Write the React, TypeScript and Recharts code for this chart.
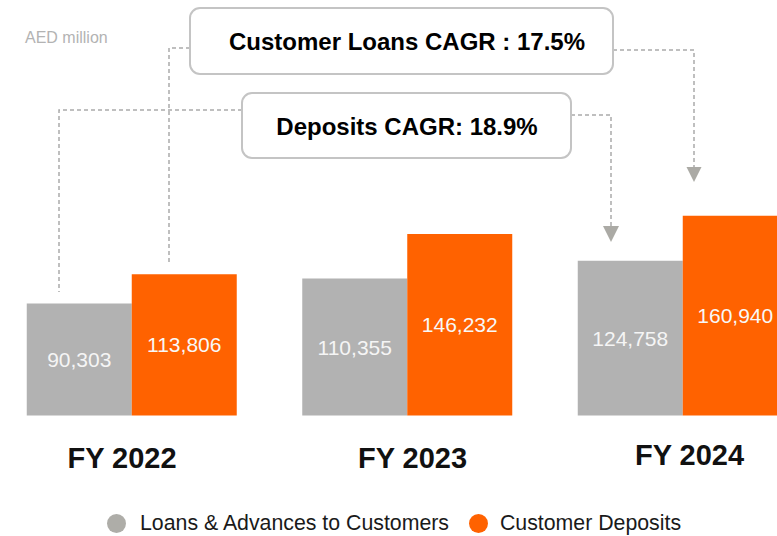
import { Bar, BarChart, LabelList, Legend, XAxis, YAxis } from 'recharts';

const years = ['FY 2022', 'FY 2023', 'FY 2024'];
const loans = [90303, 110355, 124758];
const deposits = [113806, 146232, 160940];
const unitLabel = 'AED million';
const loansCagr = 'Customer Loans CAGR : 17.5%';
const depositsCagr = 'Deposits CAGR: 18.9%';

const GREY = '#b2b2b2';
const ORANGE = '#ff6200';
const LINE = '#ababab';
const FONT = '"Liberation Sans", Arial, Helvetica, sans-serif';

// hand nudges so the year labels sit where the slide had them
const tickNudge = [
  { dx: -9.5, dy: 0 },
  { dx: 5.5, dy: 0.5 },
  { dx: 7, dy: -2.5 },
];

const legendOrder = ['loans', 'deposits'];
const legendDot: Record<string, string> = { loans: '#aeada8', deposits: ORANGE };

const data = years.map((year, i) => ({ year, loans: loans[i], deposits: deposits[i] }));

const fmt = (v: unknown) => Number(v).toLocaleString('en-US');

function YearTick(props: any) {
  const { x, y, payload, index } = props;
  const n = tickNudge[index] ?? { dx: 0, dy: 0 };
  return (
    <text
      x={x + n.dx}
      y={y + 34 + n.dy}
      textAnchor="middle"
      dominantBaseline="central"
      fontFamily={FONT}
      fontSize={29}
      fontWeight={700}
      fill="#111"
    >
      {payload.value}
    </text>
  );
}

function LegendContent(props: any) {
  const items = [...(props.payload ?? [])].sort(
    (a: any, b: any) => legendOrder.indexOf(a.dataKey) - legendOrder.indexOf(b.dataKey),
  );
  return (
    <div style={{ display: 'flex', alignItems: 'center', fontFamily: FONT, fontSize: 21.3, color: '#1a1a1a', lineHeight: 1 }}>
      {items.map((it: any, i: number) => (
        <div key={it.value} style={{ display: 'flex', alignItems: 'center', marginLeft: i ? 20 : 0 }}>
          <span
            style={{
              display: 'inline-block',
              width: 19,
              height: 19,
              borderRadius: '50%',
              background: legendDot[it.dataKey] ?? it.color,
              marginRight: i === 0 ? 14 : 12,
            }}
          />
          <span style={{ whiteSpace: 'nowrap' }}>{it.value}</span>
        </div>
      ))}
    </div>
  );
}

function Annotations() {
  const dash = { stroke: LINE, strokeWidth: 1.5, strokeDasharray: '4 3', fill: 'none' };
  return (
    <svg
      width={777}
      height={536}
      style={{ position: 'absolute', left: 0, top: 0, pointerEvents: 'none' }}
    >
      <text x={25} y={37} dominantBaseline="central" fontFamily={FONT} fontSize={16} fill="#b3b3b3">
        {unitLabel}
      </text>

      <polyline points="190,48 169,48 169,262" {...dash} />
      <polyline points="242,110 59,110 59,292" {...dash} />
      <polyline points="613,50 694,50 694,167" {...dash} />
      <polyline points="571,115 611,115 611,226" {...dash} />
      <polygon points="686.5,167 701.5,167 694,182" fill="#abaaa5" />
      <polygon points="603,226 619,226 611,242" fill="#abaaa5" />

      <rect x={190} y={8} width={423} height={66} rx={10} fill="#fff" stroke="#c4c4c4" strokeWidth={2} />
      <text x={407} y={41} textAnchor="middle" dominantBaseline="central" fontFamily={FONT} fontSize={24} fontWeight={700} fill="#000">
        {loansCagr}
      </text>

      <rect x={242} y={93} width={329} height={65} rx={10} fill="#fff" stroke="#c4c4c4" strokeWidth={2} />
      <text x={407} y={126} textAnchor="middle" dominantBaseline="central" fontFamily={FONT} fontSize={24} fontWeight={700} fill="#000">
        {depositsCagr}
      </text>
    </svg>
  );
}

export default function App() {
  return (
    <div style={{ position: 'absolute', left: 0, top: 0, width: 777, height: 536, overflow: 'hidden', background: '#fff' }}>
      <div style={{ position: 'absolute', left: -20, top: 0 }}>
        <BarChart
          width={860}
          height={536}
          data={data}
          margin={{ top: 167.2, right: 19.75, left: 13.75, bottom: 60.4 }}
          barGap={0}
          barSize={105}
        >
          <XAxis
            dataKey="year"
            axisLine={false}
            tickLine={false}
            height={60}
            interval={0}
            tick={<YearTick />}
          />
          <YAxis hide domain={[0, 200000]} />
          <Legend
            verticalAlign="middle"
            align="center"
            layout="horizontal"
            wrapperStyle={{ top: 513, left: 127, width: 'auto' }}
            content={<LegendContent />}
          />
          <Bar dataKey="loans" name="Loans & Advances to Customers" fill={GREY} isAnimationActive={false}>
            <LabelList dataKey="loans" position="center" formatter={fmt} fill="#f5f5f5" fontSize={21} fontFamily={FONT} />
          </Bar>
          <Bar dataKey="deposits" name="Customer Deposits" fill={ORANGE} isAnimationActive={false}>
            <LabelList dataKey="deposits" position="center" formatter={fmt} fill="#f8f8f8" fontSize={21} fontFamily={FONT} />
          </Bar>
        </BarChart>
      </div>
      <Annotations />
    </div>
  );
}
